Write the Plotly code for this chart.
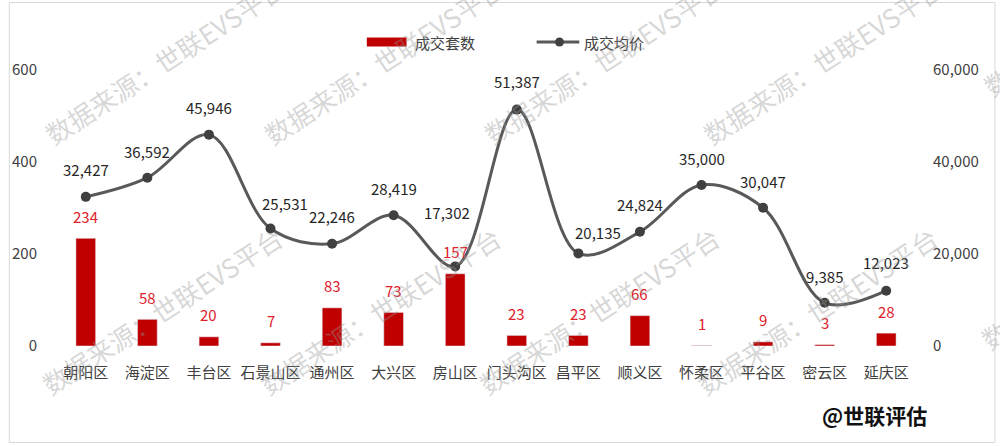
import plotly.graph_objects as go

# ---- data ----
districts = ["朝阳区", "海淀区", "丰台区", "石景山区", "通州区", "大兴区", "房山区",
             "门头沟区", "昌平区", "顺义区", "怀柔区", "平谷区", "密云区", "延庆区"]
deals = [234, 58, 20, 7, 83, 73, 157, 23, 23, 66, 1, 9, 3, 28]
avg_price = [32427, 36592, 45946, 25531, 22246, 28419, 17302,
             51387, 20135, 24824, 35000, 30047, 9385, 12023]
left_ticks = [0, 200, 400, 600]
right_ticks = [0, 20000, 40000, 60000]
bar_name = "成交套数"
line_name = "成交均价"
watermark = "数据来源：世联EVS平台"
credit = "@世联评估"

# ---- layout (pixels) ----
W, H = 1000, 446
ML, MR, MT, MB = 49, 83, 70, 100
PW, PH = W - ML - MR, H - MT - MB
FONT = "Noto Sans CJK SC, Noto Sans, sans-serif"
BAR_C = "#C00000"
LINE_C = "#595959"
TXT_C = "#404040"

def px(x):
    return (x - ML) / PW

def py(y):
    return (H - MB - y) / PH

# manual label nudges (Excel-style moved labels)
price_lbl_dx = [0, 0, 0, 14, 0, 0, -8, 0, 20, 0, 0, 0, 0, 0]
price_lbl_dy = [27, 26, 27, 25, 27, 27, 54, 28, 21, 27, 27, 26, 26, 28]

fig = go.Figure()
fig.add_trace(go.Bar(
    x=districts, y=deals, name=bar_name, marker_color=BAR_C,
    width=0.32, yaxis="y", showlegend=False,
))
fig.add_trace(go.Scatter(
    x=districts, y=avg_price, name=line_name, yaxis="y2",
    mode="lines+markers",
    line=dict(color=LINE_C, width=3, shape="spline", smoothing=1.0),
    marker=dict(color="#404040", size=10),
    showlegend=False,
))

ann = []
for i, (d, v) in enumerate(zip(districts, deals)):
    ann.append(dict(x=d, y=v, xref="x", yref="y", text=str(v), showarrow=False,
                    yanchor="middle", yshift=22,
                    font=dict(family=FONT, size=15, color="#E0202A")))
for i, (d, v) in enumerate(zip(districts, avg_price)):
    ann.append(dict(x=d, y=v, xref="x", yref="y2", text=f"{v:,}", showarrow=False,
                    yanchor="middle", yshift=price_lbl_dy[i], xshift=price_lbl_dx[i],
                    font=dict(family=FONT, size=15, color="#262626")))

# custom legend
shapes = [
    dict(type="rect", xref="paper", yref="paper", x0=px(363), x1=px(403),
         y0=py(46.5), y1=py(37.5), fillcolor=BAR_C, line=dict(width=0)),
    dict(type="line", xref="paper", yref="paper", x0=px(534), x1=px(577),
         y0=py(42), y1=py(42), line=dict(color=LINE_C, width=3)),
    dict(type="circle", xref="paper", yref="paper", x0=px(552.5), x1=px(561.5),
         y0=py(46.5), y1=py(37.5), fillcolor="#404040", line=dict(width=0)),
    # outer border
    dict(type="rect", xref="paper", yref="paper", x0=px(3), x1=px(995.5),
         y0=py(442.5), y1=py(2.5), line=dict(color="#D9D9D9", width=1),
         layer="below"),
]
ann.append(dict(x=px(409), y=py(42), xref="paper", yref="paper", text=bar_name,
                showarrow=False, xanchor="left", yanchor="middle",
                font=dict(family=FONT, size=15, color=TXT_C)))
ann.append(dict(x=px(580), y=py(42), xref="paper", yref="paper", text=line_name,
                showarrow=False, xanchor="left", yanchor="middle",
                font=dict(family=FONT, size=15, color=TXT_C)))

# credit
ann.append(dict(x=px(874), y=py(415), xref="paper", yref="paper", text=f"<b>{credit}</b>",
                showarrow=False, xanchor="center", yanchor="middle",
                font=dict(family=FONT, size=21, color="#111111")))

# watermarks
wm_centers = [(159, 60), (380, 60), (601, 60), (822, 60),
              (156, 310), (376, 310), (596, 310), (816, 310),
              (1102, 265), (1105, 13)]
for cx, cy in wm_centers:
    ann.append(dict(x=px(cx), y=py(cy), xref="paper", yref="paper", text=watermark,
                    showarrow=False, textangle=-33, xanchor="center", yanchor="middle",
                    font=dict(family=FONT, size=26, color="rgba(150,150,150,0.38)")))

fig.update_layout(
    width=W, height=H,
    margin=dict(l=ML, r=MR, t=MT, b=MB, pad=0),
    paper_bgcolor="white", plot_bgcolor="white",
    font=dict(family=FONT, size=15, color=TXT_C),
    bargap=0.68,
    xaxis=dict(type="category", range=[-0.5, len(districts) - 0.5], showgrid=False,
               showline=False, zeroline=False, ticks="", ticklabelstandoff=16,
               tickfont=dict(family=FONT, size=15, color=TXT_C)),
    yaxis=dict(range=[0, 600], tickvals=left_ticks, showgrid=False, showline=False,
               zeroline=False, ticks="", ticklabelstandoff=17,
               tickfont=dict(family=FONT, size=15, color=TXT_C)),
    yaxis2=dict(range=[0, 60000], tickvals=right_ticks, tickformat=",", overlaying="y",
                side="right", showgrid=False, showline=False, zeroline=False, ticks="",
                ticklabelstandoff=15,
                tickfont=dict(family=FONT, size=15, color=TXT_C)),
    shapes=shapes,
    annotations=ann,
)

fig.write_html("out.html", config={"displayModeBar": False},
               post_script="document.body.style.margin='0';document.body.style.padding='0';")
